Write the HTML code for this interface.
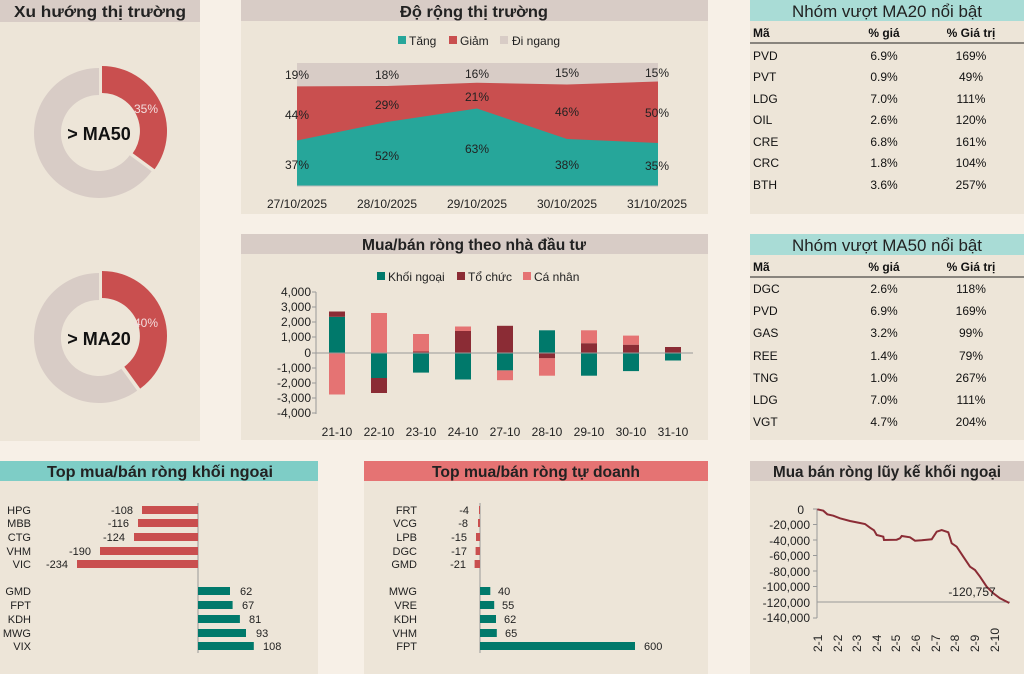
<!DOCTYPE html>
<html><head><meta charset="utf-8"><style>
html,body{margin:0;padding:0;background:#f7f0e7;}
svg{display:block;font-family:"Liberation Sans",sans-serif;}
</style></head><body>
<svg width="1024" height="674" viewBox="0 0 1024 674" xmlns="http://www.w3.org/2000/svg">
<rect width="1024" height="674" fill="#f7f0e7"/>
<!-- panels -->
<g fill="#ede5d8">
<rect x="0" y="0" width="200" height="441"/>
<rect x="241" y="0" width="467" height="214"/>
<rect x="241" y="234" width="467" height="206"/>
<rect x="750" y="0" width="274" height="214"/>
<rect x="750" y="234" width="274" height="206"/>
<rect x="0" y="461" width="318" height="213"/>
<rect x="364" y="461" width="344" height="213"/>
<rect x="750" y="461" width="274" height="213"/>
</g>
<!-- headers -->
<rect x="0" y="0" width="200" height="22" fill="#d8ccc6"/>
<rect x="241" y="0" width="467" height="21" fill="#d8ccc6"/>
<rect x="241" y="234" width="467" height="20" fill="#d8ccc6"/>
<rect x="750" y="0" width="274" height="21" fill="#a9dcd6"/>
<rect x="750" y="234" width="274" height="21" fill="#a9dcd6"/>
<rect x="0" y="461" width="318" height="20" fill="#7ecdc6"/>
<rect x="364" y="461" width="344" height="20" fill="#e57373"/>
<rect x="750" y="461" width="274" height="20" fill="#d8ccc6"/>
<g font-size="16" font-weight="bold" fill="#222" text-anchor="middle">
<text x="100" y="17" textLength="172" lengthAdjust="spacingAndGlyphs">Xu hướng thị trường</text>
<text x="474" y="17" textLength="148" lengthAdjust="spacingAndGlyphs">Độ rộng thị trường</text>
<text x="474" y="250" textLength="224" lengthAdjust="spacingAndGlyphs">Mua/bán ròng theo nhà đầu tư</text>
<text x="887" y="17" textLength="190" lengthAdjust="spacingAndGlyphs" font-weight="normal" font-size="17">Nhóm vượt MA20 nổi bật</text>
<text x="887" y="251" textLength="190" lengthAdjust="spacingAndGlyphs" font-weight="normal" font-size="17">Nhóm vượt MA50 nổi bật</text>
<text x="160" y="477" textLength="226" lengthAdjust="spacingAndGlyphs">Top mua/bán ròng khối ngoại</text>
<text x="536" y="477" textLength="208" lengthAdjust="spacingAndGlyphs">Top mua/bán ròng tự doanh</text>
<text x="887" y="477" textLength="228" lengthAdjust="spacingAndGlyphs">Mua bán ròng lũy kế khối ngoại</text>
</g>
<!-- donuts -->
<path d="M151.6,171.2 A65,65 0 1 1 99,68 L99,95 A38,38 0 1 0 129.7,155.3 Z" fill="#d8ccc6"/>
<g transform="translate(3,-2)"><path d="M99,68 A65,65 0 0 1 151.6,171.2 L129.7,155.3 A38,38 0 0 0 99,95 Z" fill="#c94f4f"/></g>
<text x="146" y="113" font-size="12" fill="#f3dede" text-anchor="middle">35%</text>
<text x="99" y="140" font-size="18" font-weight="bold" text-anchor="middle" fill="#111">&gt; MA50</text>
<path d="M137.2,390.6 A65,65 0 1 1 99,273 L99,300 A38,38 0 1 0 121.3,368.7 Z" fill="#d8ccc6"/>
<g transform="translate(3,-2)"><path d="M99,273 A65,65 0 0 1 137.2,390.6 L121.3,368.7 A38,38 0 0 0 99,300 Z" fill="#c94f4f"/></g>
<text x="146" y="327" font-size="12" fill="#f3dede" text-anchor="middle">40%</text>
<text x="99" y="345" font-size="18" font-weight="bold" text-anchor="middle" fill="#111">&gt; MA20</text>
<!-- breadth -->
<g font-size="12" fill="#222">
<rect x="398" y="36" width="8" height="8" fill="#26a69a"/><text x="409" y="45">Tăng</text>
<rect x="449" y="36" width="8" height="8" fill="#c94f4f"/><text x="460" y="45">Giảm</text>
<rect x="500" y="36" width="8" height="8" fill="#d8ccc6"/><text x="512" y="45">Đi ngang</text>
</g>
<rect x="297" y="63" width="361" height="123" fill="#d8ccc6"/>
<polygon points="297,86.4 387,86 477,82.7 567,84.5 658,81.5 658,186 297,186" fill="#c94f4f"/>
<polygon points="297,140.5 387,122 477,108.5 567,139 658,143 658,186 297,186" fill="#26a69a"/>
<line x1="297" y1="186" x2="658" y2="186" stroke="#bbb"/>
<g font-size="12" fill="#222" text-anchor="middle">
<text x="297" y="79">19%</text><text x="387" y="79">18%</text><text x="477" y="78">16%</text><text x="567" y="77">15%</text><text x="657" y="77">15%</text>
<text x="297" y="119">44%</text><text x="387" y="109">29%</text><text x="477" y="101">21%</text><text x="567" y="116">46%</text><text x="657" y="117">50%</text>
<text x="297" y="169">37%</text><text x="387" y="160">52%</text><text x="477" y="153">63%</text><text x="567" y="169">38%</text><text x="657" y="170">35%</text>
<text x="297" y="208">27/10/2025</text><text x="387" y="208">28/10/2025</text><text x="477" y="208">29/10/2025</text><text x="567" y="208">30/10/2025</text><text x="657" y="208">31/10/2025</text>
</g>
<!-- net by investor -->
<g font-size="12" fill="#222">
<rect x="377" y="272" width="8" height="8" fill="#00796b"/><text x="388" y="281">Khối ngoại</text>
<rect x="457" y="272" width="8" height="8" fill="#8b2c35"/><text x="468" y="281">Tổ chức</text>
<rect x="523" y="272" width="8" height="8" fill="#e57373"/><text x="534" y="281">Cá nhân</text>
</g>
<g font-size="12" fill="#222" text-anchor="end">
<text x="311" y="296">4,000</text><text x="311" y="311">3,000</text><text x="311" y="326">2,000</text><text x="311" y="341">1,000</text><text x="311" y="357">0</text><text x="311" y="372">-1,000</text><text x="311" y="387">-2,000</text><text x="311" y="402">-3,000</text><text x="311" y="417">-4,000</text>
</g>
<line x1="316" y1="292" x2="316" y2="414" stroke="#999"/>
<g stroke="#999"><line x1="312" y1="292" x2="316" y2="292"/><line x1="312" y1="307" x2="316" y2="307"/><line x1="312" y1="322" x2="316" y2="322"/><line x1="312" y1="337" x2="316" y2="337"/><line x1="312" y1="353" x2="316" y2="353"/><line x1="312" y1="368" x2="316" y2="368"/><line x1="312" y1="383" x2="316" y2="383"/><line x1="312" y1="398" x2="316" y2="398"/><line x1="312" y1="413" x2="316" y2="413"/></g>
<g>
<!-- 21 --><rect x="329" y="316.8" width="16" height="36.2" fill="#00796b"/><rect x="329" y="311.5" width="16" height="5.3" fill="#8b2c35"/><rect x="329" y="353" width="16" height="41.5" fill="#e57373"/>
<!-- 22 --><rect x="371" y="313" width="16" height="40" fill="#e57373"/><rect x="371" y="353" width="16" height="25" fill="#00796b"/><rect x="371" y="378" width="16" height="15" fill="#8b2c35"/>
<!-- 23 --><rect x="413" y="351.5" width="16" height="1.5" fill="#8b2c35"/><rect x="413" y="334" width="16" height="17.5" fill="#e57373"/><rect x="413" y="353" width="16" height="19.6" fill="#00796b"/>
<!-- 24 --><rect x="455" y="331" width="16" height="22" fill="#8b2c35"/><rect x="455" y="326.5" width="16" height="4.5" fill="#e57373"/><rect x="455" y="353" width="16" height="26.5" fill="#00796b"/>
<!-- 27 --><rect x="497" y="325.8" width="16" height="27.2" fill="#8b2c35"/><rect x="497" y="353" width="16" height="17.4" fill="#00796b"/><rect x="497" y="370.4" width="16" height="9.8" fill="#e57373"/>
<!-- 28 --><rect x="539" y="330.3" width="16" height="22.7" fill="#00796b"/><rect x="539" y="353" width="16" height="5.3" fill="#8b2c35"/><rect x="539" y="358.3" width="16" height="17.4" fill="#e57373"/>
<!-- 29 --><rect x="581" y="343.2" width="16" height="9.8" fill="#8b2c35"/><rect x="581" y="330.3" width="16" height="12.9" fill="#e57373"/><rect x="581" y="353" width="16" height="22.7" fill="#00796b"/>
<!-- 30 --><rect x="623" y="344.7" width="16" height="8.3" fill="#8b2c35"/><rect x="623" y="335.6" width="16" height="9.1" fill="#e57373"/><rect x="623" y="353" width="16" height="18.1" fill="#00796b"/>
<!-- 31 --><rect x="665" y="347" width="16" height="6" fill="#8b2c35"/><rect x="665" y="353" width="16" height="7.5" fill="#00796b"/>
</g>
<line x1="316" y1="353" x2="693" y2="353" stroke="#999"/>
<g font-size="12" fill="#222" text-anchor="middle">
<text x="337" y="436">21-10</text><text x="379" y="436">22-10</text><text x="421" y="436">23-10</text><text x="463" y="436">24-10</text><text x="505" y="436">27-10</text><text x="547" y="436">28-10</text><text x="589" y="436">29-10</text><text x="631" y="436">30-10</text><text x="673" y="436">31-10</text>
</g>
<!-- tables -->
<g font-size="12" fill="#111">
<text x="753" y="37" font-weight="bold">Mã</text><text x="884" y="37" text-anchor="middle" font-weight="bold">% giá</text><text x="971" y="37" text-anchor="middle" font-weight="bold">% Giá trị</text>
<line x1="750" y1="43" x2="1024" y2="43" stroke="#222" stroke-width="1"/>
<g><text x="753" y="60">PVD</text><text x="753" y="81">PVT</text><text x="753" y="103">LDG</text><text x="753" y="124">OIL</text><text x="753" y="146">CRE</text><text x="753" y="167">CRC</text><text x="753" y="189">BTH</text></g>
<g text-anchor="middle"><text x="884" y="60">6.9%</text><text x="884" y="81">0.9%</text><text x="884" y="103">7.0%</text><text x="884" y="124">2.6%</text><text x="884" y="146">6.8%</text><text x="884" y="167">1.8%</text><text x="884" y="189">3.6%</text>
<text x="971" y="60">169%</text><text x="971" y="81">49%</text><text x="971" y="103">111%</text><text x="971" y="124">120%</text><text x="971" y="146">161%</text><text x="971" y="167">104%</text><text x="971" y="189">257%</text></g>
<text x="753" y="271" font-weight="bold">Mã</text><text x="884" y="271" text-anchor="middle" font-weight="bold">% giá</text><text x="971" y="271" text-anchor="middle" font-weight="bold">% Giá trị</text>
<line x1="750" y1="277" x2="1024" y2="277" stroke="#222" stroke-width="1"/>
<g><text x="753" y="293">DGC</text><text x="753" y="315">PVD</text><text x="753" y="337">GAS</text><text x="753" y="360">REE</text><text x="753" y="382">TNG</text><text x="753" y="404">LDG</text><text x="753" y="426">VGT</text></g>
<g text-anchor="middle"><text x="884" y="293">2.6%</text><text x="884" y="315">6.9%</text><text x="884" y="337">3.2%</text><text x="884" y="360">1.4%</text><text x="884" y="382">1.0%</text><text x="884" y="404">7.0%</text><text x="884" y="426">4.7%</text>
<text x="971" y="293">118%</text><text x="971" y="315">169%</text><text x="971" y="337">99%</text><text x="971" y="360">79%</text><text x="971" y="382">267%</text><text x="971" y="404">111%</text><text x="971" y="426">204%</text></g>
</g>
<!-- top KN -->
<line x1="198" y1="503" x2="198" y2="653" stroke="#999"/>
<g fill="#c94f4f"><rect x="142" y="506" width="56" height="8"/><rect x="138" y="519" width="60" height="8"/><rect x="134" y="533" width="64" height="8"/><rect x="100" y="547" width="98" height="8"/><rect x="77" y="560" width="121" height="8"/></g>
<g fill="#00796b"><rect x="198" y="587" width="32" height="8"/><rect x="198" y="601" width="34.6" height="8"/><rect x="198" y="615" width="41.9" height="8"/><rect x="198" y="629" width="48" height="8"/><rect x="198" y="642" width="55.8" height="8"/></g>
<g font-size="11" fill="#222" text-anchor="end">
<text x="31" y="514">HPG</text><text x="31" y="527">MBB</text><text x="31" y="541">CTG</text><text x="31" y="555">VHM</text><text x="31" y="568">VIC</text>
<text x="31" y="595">GMD</text><text x="31" y="609">FPT</text><text x="31" y="623">KDH</text><text x="31" y="637">MWG</text><text x="31" y="650">VIX</text>
<text x="133" y="514">-108</text><text x="129" y="527">-116</text><text x="125" y="541">-124</text><text x="91" y="555">-190</text><text x="68" y="568">-234</text>
</g>
<g font-size="11" fill="#222"><text x="240" y="595">62</text><text x="242" y="609">67</text><text x="249" y="623">81</text><text x="256" y="637">93</text><text x="263" y="650">108</text></g>
<!-- top TD -->
<line x1="480" y1="503" x2="480" y2="653" stroke="#999"/>
<g fill="#c94f4f"><rect x="479" y="506" width="1" height="8"/><rect x="478" y="519" width="2" height="8"/><rect x="476" y="533" width="4" height="8"/><rect x="475.6" y="547" width="4.4" height="8"/><rect x="474.6" y="560" width="5.4" height="8"/></g>
<g fill="#00796b"><rect x="480" y="587" width="10.3" height="8"/><rect x="480" y="601" width="14.2" height="8"/><rect x="480" y="615" width="16" height="8"/><rect x="480" y="629" width="16.8" height="8"/><rect x="480" y="642" width="155" height="8"/></g>
<g font-size="11" fill="#222" text-anchor="end">
<text x="417" y="514">FRT</text><text x="417" y="527">VCG</text><text x="417" y="541">LPB</text><text x="417" y="555">DGC</text><text x="417" y="568">GMD</text>
<text x="417" y="595">MWG</text><text x="417" y="609">VRE</text><text x="417" y="623">KDH</text><text x="417" y="637">VHM</text><text x="417" y="650">FPT</text>
<text x="469" y="514">-4</text><text x="468" y="527">-8</text><text x="467" y="541">-15</text><text x="467" y="555">-17</text><text x="466" y="568">-21</text>
</g>
<g font-size="11" fill="#222"><text x="498" y="595">40</text><text x="502" y="609">55</text><text x="504" y="623">62</text><text x="505" y="637">65</text><text x="644" y="650">600</text></g>
<!-- cumulative -->
<line x1="817" y1="509" x2="817" y2="618" stroke="#999"/>
<line x1="817" y1="602" x2="1010" y2="602" stroke="#999"/>
<g stroke="#999"><line x1="813" y1="509" x2="817" y2="509"/><line x1="813" y1="524.5" x2="817" y2="524.5"/><line x1="813" y1="540" x2="817" y2="540"/><line x1="813" y1="555.5" x2="817" y2="555.5"/><line x1="813" y1="571" x2="817" y2="571"/><line x1="813" y1="586.5" x2="817" y2="586.5"/><line x1="813" y1="618" x2="817" y2="618"/></g>
<g font-size="12" fill="#222" text-anchor="end">
<text x="804" y="514">0</text><text x="810" y="529">-20,000</text><text x="810" y="545">-40,000</text><text x="810" y="560">-60,000</text><text x="810" y="576">-80,000</text><text x="810" y="591">-100,000</text><text x="810" y="607">-120,000</text><text x="810" y="622">-140,000</text>
</g>
<polyline fill="none" stroke="#8b2c35" stroke-width="2" points="817.3,509.3 823.3,510.7 827.3,514.3 833.3,515.7 840,518.3 850,521 860,523 865,524 870,527.7 874,530.3 876.7,535 883.3,536.7 884,540 896.7,539.7 900,538.3 901.7,536 910,537.3 915,540.7 921.7,540.3 931.7,539.3 936.7,531.7 941.7,530 948.3,532.3 951.7,543.3 956.7,546.7 963.3,556.7 970,566.7 975,570 980,576.7 986.7,586.7 993.3,593.3 1000,598.3 1009.3,603"/>
<text x="972" y="596" font-size="12" fill="#222" text-anchor="middle">-120,757</text>
<g font-size="12" fill="#222">
<text transform="translate(822,652) rotate(-90)">2-1</text>
<text transform="translate(842,652) rotate(-90)">2-2</text>
<text transform="translate(861,652) rotate(-90)">2-3</text>
<text transform="translate(881,652) rotate(-90)">2-4</text>
<text transform="translate(900,652) rotate(-90)">2-5</text>
<text transform="translate(920,652) rotate(-90)">2-6</text>
<text transform="translate(940,652) rotate(-90)">2-7</text>
<text transform="translate(959,652) rotate(-90)">2-8</text>
<text transform="translate(979,652) rotate(-90)">2-9</text>
<text transform="translate(999,652) rotate(-90)">2-10</text>
</g>
</svg>
</body></html>
